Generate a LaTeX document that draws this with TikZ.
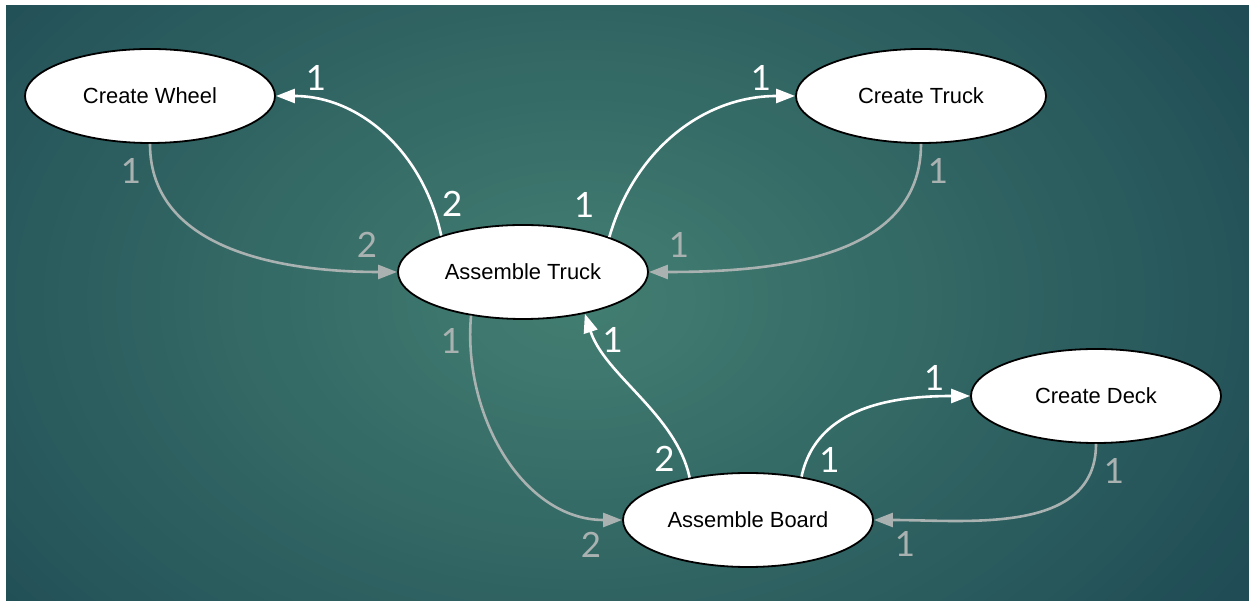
\documentclass[tikz,border=0pt]{standalone}
\usepackage{fontspec}
\setmainfont{Liberation Sans}
\newfontfamily\numfont{Lato}
\usetikzlibrary{shapes.geometric, arrows.meta}
\definecolor{bgglow}{HTML}{437F72}
\definecolor{bgcorner}{HTML}{1C4752}
\definecolor{dimline}{HTML}{A9B2B0}
\tikzstyle{blob} = [ellipse, minimum width=250bp, minimum height=94bp, inner sep=0pt, text centered, draw=black, line width=1.8bp, fill=white, font=\fontsize{22}{26}\selectfont]
\tikzstyle{flowarrow} = [line width=2.6bp, draw=white, -{Triangle[length=19bp, width=14bp]}]
\tikzstyle{dimarrow} = [line width=2.6bp, draw=dimline, -{Triangle[length=19bp, width=14bp]}]
\tikzstyle{wnum} = [text=white, inner sep=0pt, font=\numfont\fontsize{35}{40}\selectfont]
\tikzstyle{gnum} = [text=dimline, inner sep=0pt, font=\numfont\fontsize{35}{40}\selectfont]
\begin{document}
\begin{tikzpicture}[x=1bp, y=1bp, node distance=176bp]
        % backdrop
        \useasboundingbox (0,0) rectangle (1249,601);
        \fill[white] (0,0) rectangle (1249,601);
        \begin{scope}
            \clip (6,0) rectangle (1249,595);
            \fill[bgcorner] (6,0) rectangle (1249,595);
            \foreach \i in {60,59,...,1} {
                \pgfmathsetmacro\mixpc{100*\i/60}
                \fill[bgcorner!\mixpc!bgglow] (580,301) ellipse [x radius=14.5*\i, y radius=10*\i];
            }
        \end{scope}

        \node (atruck) [blob] at (523,329) {Assemble Truck};
        \node (wheel) [blob, above of=atruck, xshift=-373bp] {Create Wheel};
        \node (ctruck) [blob, above of=atruck, xshift=398bp] {Create Truck};
        \node (board) [blob, below of=atruck, xshift=225bp, yshift=-72bp] {Assemble Board};
        \node (deck) [blob, above of=board, xshift=348bp, yshift=-52bp] {Create Deck};

        \draw[flowarrow] (atruck.156) to[out=102, in=0]
            node[wnum, at start, xshift=11bp, yshift=32bp] (w2) {2}
            node[wnum, at end, xshift=40bp, yshift=18bp] (w1) {1} (wheel.east);
        \draw[flowarrow] (atruck.22) to[out=74, in=180]
            node[wnum, at start, xshift=-25bp, yshift=32bp] (ct2) {1}
            node[wnum, at end, xshift=-34bp, yshift=18bp] (ct1) {1} (ctruck.west);
        \draw[dimarrow] (wheel.south) to[out=-90, in=180]
            node[gnum, at start, xshift=-19bp, yshift=-27bp] (wa1) {1}
            node[gnum, at end, xshift=-30bp, yshift=27bp] (wa2) {2} (atruck.west);
        \draw[dimarrow] (ctruck.south) to[out=-90, in=0]
            node[gnum, at start, xshift=17bp, yshift=-27bp] (ca1) {1}
            node[gnum, at end, xshift=30bp, yshift=27bp] (ca2) {1} (atruck.east);
        \draw[dimarrow] (atruck.220) to[out=-95, in=180]
            node[gnum, at start, xshift=-20bp, yshift=-25bp] (ab1) {1}
            node[gnum, at end, xshift=-31bp, yshift=-25bp] (ab2) {2} (board.west);
        \draw[flowarrow] (board.144) to[out=102, in=-72, looseness=0.85]
            node[wnum, at start, xshift=-25bp, yshift=19bp] (ba2) {2}
            node[wnum, at end, xshift=28bp, yshift=-26bp] (ba1) {1} (atruck.326);
        \draw[flowarrow] (board.39) to[out=78, in=180]
            node[wnum, at start, xshift=28bp, yshift=17bp] (bd1) {1}
            node[wnum, at end, xshift=-36bp, yshift=18bp] (bd2) {1} (deck.west);
        \draw[dimarrow] (deck.south) to[out=-90, in=0]
            node[gnum, at start, xshift=18bp, yshift=-27bp] (db1) {1}
            node[gnum, at end, xshift=31bp, yshift=-24bp] (db2) {1} (board.east);
    \end{tikzpicture}
\end{document}
